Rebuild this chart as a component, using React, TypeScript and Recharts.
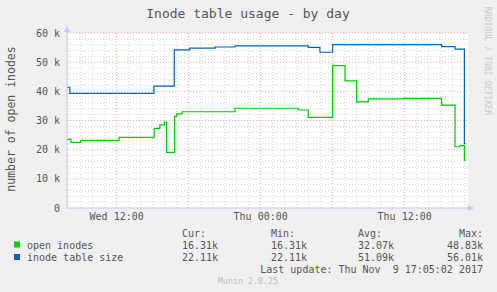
import { CartesianGrid, Line, LineChart, ReferenceLine, XAxis, YAxis } from 'recharts'

// hours since Wed 00:00 -> number of inodes
const openTimes = [7.86, 8.2, 9.0, 12.2, 15.13, 15.6, 15.97, 16.15, 16.82, 17.0, 17.45, 21.86, 27.13, 27.97, 30.0, 31.03, 32.0, 32.97, 35.86, 39.08, 40.2, 40.6, 40.98, 41.08]
const openValues = [23500, 22500, 23200, 24200, 27300, 28500, 29400, 19100, 31400, 32300, 33000, 34200, 33600, 31100, 48830, 43600, 36400, 37400, 37600, 35300, 21000, 21400, 16310, 16310]

const tableTimes = [7.86, 8.1, 15.1, 16.8, 18.1, 20.2, 21.86, 27.97, 28.94, 30.0, 39.08, 40.2, 40.98, 41.08]
const tableValues = [41400, 39300, 41800, 54200, 54800, 55200, 55600, 55100, 53400, 56010, 55300, 54500, 22110, 22110]

const xTicks = [12, 24, 36]
const xTickLabels = ['Wed 12:00', 'Thu 00:00', 'Thu 12:00']
const yTicks = [0, 10000, 20000, 30000, 40000, 50000, 60000]

const legendRows = [
	{ name: 'open inodes', color: '#00cc00', cur: '16.31k', min: '16.31k', avg: '32.07k', max: '48.83k' },
	{ name: 'inode table size', color: '#0066b3', cur: '22.11k', min: '22.11k', avg: '51.09k', max: '56.01k' },
]

const xDomain: [number, number] = [7.86, 41.28]
const minorHours: number[] = []
for (let h = 8; h <= 41; h++) if (h % 6 !== 0) minorHours.push(h)
const majorHours = [12, 18, 24, 30, 36]
const minorValues: number[] = []
for (let v = 2000; v < 60000; v += 2000) if (v % 10000 !== 0) minorValues.push(v)

const openData = openTimes.map((t, i) => ({ t, v: openValues[i] }))
const tableData = tableTimes.map((t, i) => ({ t, v: tableValues[i] }))

const font = '"DejaVu Sans Mono", monospace'
const textColor = '#555'
const axisColor = '#c4c8ff'

export default function App() {
	return (
		<div
			style={{
				position: 'absolute',
				left: 0,
				top: 0,
				width: 497,
				height: 292,
				background: '#f0f0f0',
				fontFamily: font,
			}}
		>
			<LineChart width={497} height={292} margin={{ top: 33, right: 29, bottom: 64, left: 7 }}>
				<CartesianGrid horizontal={false} vertical={false} fill='#ffffff' stroke='none' />
				<XAxis
					type='number'
					dataKey='t'
					domain={xDomain}
					allowDataOverflow
					ticks={xTicks}
					tickFormatter={(v: number) => xTickLabels[xTicks.indexOf(v)] ?? ''}
					height={20}
					tickLine={false}
					tickSize={2}
					tickMargin={3}
					axisLine={{ stroke: axisColor }}
					tick={{ fill: textColor, fontSize: 10, fontFamily: font }}
				/>
				<YAxis
					type='number'
					domain={[0, 60000]}
					ticks={yTicks}
					width={60}
					tickLine={false}
					tickSize={3}
					tickMargin={4}
					axisLine={{ stroke: axisColor }}
					tickFormatter={(v: number) => (v === 0 ? '0' : `${v / 1000} k`)}
					tick={{ fill: textColor, fontSize: 10, fontFamily: font }}
				/>
				{minorHours.map((h) => (
					<ReferenceLine key={'mh' + h} x={h} stroke='#d4d4d4' strokeDasharray='1 2' />
				))}
				{minorValues.map((v) => (
					<ReferenceLine key={'mv' + v} y={v} stroke='#d4d4d4' strokeDasharray='1 2' />
				))}
				{majorHours.map((h) => (
					<ReferenceLine key={'Mh' + h} x={h} stroke='#f5a0a0' strokeDasharray='1 2' />
				))}
				{yTicks.slice(1).map((v) => (
					<ReferenceLine key={'Mv' + v} y={v} stroke='#f5a0a0' strokeDasharray='1 2' />
				))}
				<Line
					data={openData}
					dataKey='v'
					type='stepAfter'
					stroke='#00cc00'
					strokeWidth={1.2}
					dot={false}
					isAnimationActive={false}
				/>
				<Line
					data={tableData}
					dataKey='v'
					type='stepAfter'
					stroke='#0066b3'
					strokeWidth={1.2}
					dot={false}
					isAnimationActive={false}
				/>
			</LineChart>
			<svg
				width={497}
				height={292}
				style={{ position: 'absolute', left: 0, top: 0, pointerEvents: 'none' }}
				fontFamily={font}
			>
				{/* axis arrows */}
				<line x1={67} y1={33} x2={67} y2={27} stroke={axisColor} />
				<polygon points='64,32 70,32 67,26' fill={axisColor} />
				<line x1={468} y1={208} x2={473} y2={208} stroke={axisColor} />
				<polygon points='468,205 468,211 474,208' fill={axisColor} />

				<text x={248} y={13} textAnchor='middle' dominantBaseline='central' fontSize={13} fill={textColor}>
					Inode table usage - by day
				</text>
				<text
					x={11}
					y={119}
					textAnchor='middle'
					dominantBaseline='central'
					fontSize={11.5}
					fill={textColor}
					transform='rotate(-90 11 119)'
				>
					number of open inodes
				</text>
				<text
					x={488}
					y={61}
					textAnchor='middle'
					dominantBaseline='central'
					fontSize={8.2}
					fill='#c8c8c8'
					transform='rotate(90 488 61)'
				>
					RRDTOOL / TOBI OETIKER
				</text>

				<g fontSize={10} fill={textColor} dominantBaseline='central'>
					<text x={182} y={233}>Cur:</text>
					<text x={271} y={233}>Min:</text>
					<text x={358} y={233}>Avg:</text>
					<text x={483} y={233} textAnchor='end'>Max:</text>
					{legendRows.map((r, i) => {
						const y = 245 + i * 12.5
						return (
							<g key={r.name}>
								<rect x={14} y={y - 3.5} width={6} height={6} fill={r.color} />
								<text x={27} y={y}>{r.name}</text>
								<text x={182} y={y}>{r.cur}</text>
								<text x={271} y={y}>{r.min}</text>
								<text x={358} y={y}>{r.avg}</text>
								<text x={483} y={y} textAnchor='end'>{r.max}</text>
							</g>
						)
					})}
					<text x={483} y={269.5} textAnchor='end' style={{ whiteSpace: 'pre' }}>
						{'Last update: Thu Nov  9 17:05:02 2017'}
					</text>
				</g>
				<text x={248} y={281} textAnchor='middle' dominantBaseline='central' fontSize={8.3} fill='#bbbbbb'>
					Munin 2.0.25
				</text>
			</svg>
		</div>
	)
}
